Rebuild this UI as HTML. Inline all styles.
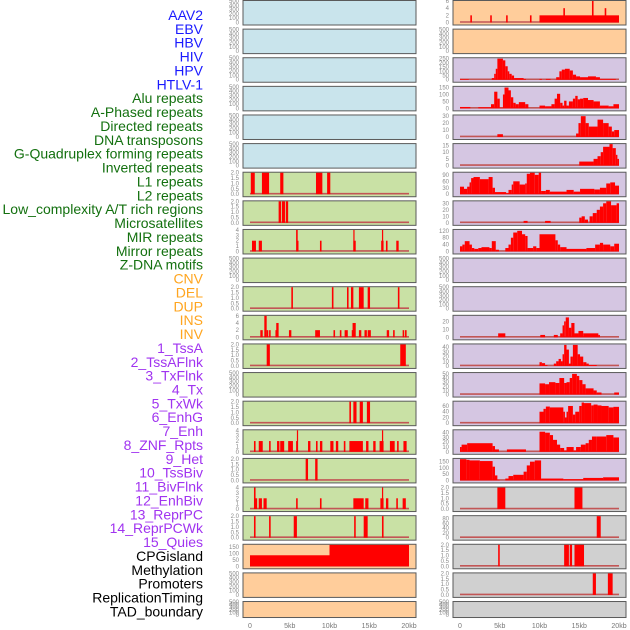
<!DOCTYPE html>
<html><head><meta charset="utf-8">
<style>
html,body{margin:0;padding:0;background:#fff;width:630px;height:630px;overflow:hidden}
svg{display:block;font-family:"Liberation Sans",sans-serif}
</style></head>
<body>
<svg id="chart" width="630" height="630" viewBox="0 0 630 630" xmlns="http://www.w3.org/2000/svg"></svg>
<script>
const featureLabels = ["AAV2","EBV","HBV","HIV","HPV","HTLV-1","Alu repeats","A-Phased repeats","Directed repeats","DNA transposons","G-Quadruplex forming repeats","Inverted repeats","L1 repeats","L2 repeats","Low_complexity A/T rich regions","Microsatellites","MIR repeats","Mirror repeats","Z-DNA motifs","CNV","DEL","DUP","INS","INV","1_TssA","2_TssAFlnk","3_TxFlnk","4_Tx","5_TxWk","6_EnhG","7_Enh","8_ZNF_Rpts","9_Het","10_TssBiv","11_BivFlnk","12_EnhBiv","13_ReprPC","14_ReprPCWk","15_Quies","CPGisland","Methylation","Promoters","ReplicationTiming","TAD_boundary"];
const labelGroups = ["virus","virus","virus","virus","virus","virus","repeat","repeat","repeat","repeat","repeat","repeat","repeat","repeat","repeat","repeat","repeat","repeat","repeat","sv","sv","sv","sv","sv","chrom","chrom","chrom","chrom","chrom","chrom","chrom","chrom","chrom","chrom","chrom","chrom","chrom","chrom","chrom","other","other","other","other","other"];
const xTickValues = [0,5,10,15,20];
const xTickLabels = ["0","5kb","10kb","15kb","20kb"];

// Left column (22 panels): y-axis maxima, tick labels and segments [start kb, end kb, value]
const leftYMax = [500,500,500,500,500,500,2,2,4,500,2,6,2,500,2,4,2,4,2,166,500,500];
const leftTicks = [
 ["0","100","200","300","400","500"],["0","100","200","300","400","500"],["0","100","200","300","400","500"],["0","100","200","300","400","500"],["0","100","200","300","400","500"],["0","100","200","300","400","500"],
 ["0.0","0.5","1.0","1.5","2.0"],["0.0","0.5","1.0","1.5","2.0"],["0","1","2","3","4"],["0","100","200","300","400","500"],["0.0","0.5","1.0","1.5","2.0"],["0","2","4","6"],["0.0","0.5","1.0","1.5","2.0"],["0","100","200","300","400","500"],["0.0","0.5","1.0","1.5","2.0"],["0","1","2","3","4"],["0.0","0.5","1.0","1.5","2.0"],["0","1","2","3","4"],["0.0","0.5","1.0","1.5","2.0"],["0","50","100","150"],["0","100","200","300","400","500"],["0","100","200","300","400","500"]];
const leftSegs = [
 [],[],[],[],[],[],
 [[0.1,0.6,2],[1.5,2.4,2],[3.8,4.2,2],[8.3,9.1,2],[9.7,10.1,2]],
 [[3.6,3.9,2],[4.0,4.4,2],[4.5,4.8,2]],
 [[0.25,0.75,2],[1.1,1.5,2],[5.8,6.0,4],[5.9,6.1,2],[8.8,9.0,2],[13.0,13.1,4],[13.0,13.3,2],[16.6,16.7,4],[16.5,16.8,2],[17.1,17.3,2],[18.4,18.7,2]],
 [],
 [[5.2,5.4,2],[10.3,10.5,2],[12.2,12.4,2],[12.7,13.0,2],[13.7,14.3,2],[14.8,15.1,2],[18.6,18.8,2]],
 [[1.3,1.6,2],[1.8,2.1,6],[2.1,2.3,2],[2.4,2.6,2],[3.2,3.3,2],[3.3,3.6,4],[4.9,5.2,2],[8.2,8.8,2],[10.5,10.7,2],[11.3,11.5,2],[11.9,12.3,2],[12.8,12.9,2],[12.9,13.3,4],[13.7,14.0,2],[14.4,14.7,2],[14.8,15.2,2],[17.2,17.5,2],[18.0,18.2,2],[19.2,19.4,2],[19.5,19.7,2]],
 [[2.1,2.5,2],[18.9,19.6,2]],
 [],
 [[12.5,12.7,2],[13.0,13.4,2],[13.8,14.2,2],[14.7,15.1,2]],
 [[0.5,0.7,2],[1.1,1.6,2],[2.4,2.6,2],[3.4,3.7,2],[3.8,4.3,2],[4.8,5.4,2],[5.8,6.0,2],[7.3,7.6,2],[8.3,8.5,2],[8.8,9.1,2],[10.1,10.5,2],[10.8,11.1,2],[11.8,12.0,2],[12.5,14.2,2],[14.6,14.9,2],[15.5,15.8,2],[16.3,16.8,2],[17.6,18.2,2],[18.5,18.7,2],[19.3,19.7,2],[5.9,6.0,4],[16.6,16.7,4]],
 [[7.0,7.3,2],[8.2,8.5,2]],
 [[0.5,0.7,4],[0.6,0.9,2],[1.1,1.5,2],[1.7,2.1,2],[5.8,6.0,2],[8.8,9.0,2],[13.0,14.3,2],[14.5,14.9,2],[16.4,16.8,2],[16.6,16.7,4],[17.1,17.4,2],[18.4,18.6,2],[19.2,19.6,2]],
 [[0.5,0.7,2],[2.4,2.6,2],[5.5,5.9,2],[13.1,13.3,2],[14.3,14.8,2],[16.6,16.8,2]],
 [[0,10,85],[10,20,165]],
 [],[]];

// Right column (22 panels)
const rightYMax = [6,500,255,155,31,16,100,33,125,500,500,27,46,52,75,45,172,2,90,2,2,500];
const rightTicks = [
 ["0","2","4","6"],["0","100","200","300","400","500"],["0","50","100","150","200","250"],["0","50","100","150"],["0","10","20","30"],["0","5","10","15"],["0","30","60","90"],["0","10","20","30"],["0","40","80","120"],["0","100","200","300","400","500"],["0","100","200","300","400","500"],["0","10","20"],["0","10","20","30","40"],["0","10","20","30","40","50"],["0","20","40","60"],["0","10","20","30","40"],["0","50","100","150"],["0.0","0.5","1.0","1.5","2.0"],["0","20","40","60","80"],["0.0","0.5","1.0","1.5","2.0"],["0.0","0.5","1.0","1.5","2.0"],["0","100","200","300","400","500"]];
// Step profiles: breakpoints (kb) and values per step (last step ends at 20kb)
const rightSegs = [
 [[1.3,1.5,2],[3.8,4.0,2],[5.8,6.0,2],[8.8,9.0,2],[10,20,2],[13.0,13.2,4],[16.6,16.8,6],[18.2,18.4,4]],
 [],
 null,null,null,null,null,null,null,[],[],null,null,null,null,null,null,
 [[4.7,5.7,2],[14.4,15.4,2]],
 [[17.2,17.7,90]],
 [[4.8,5.0,2],[13.1,13.7,2],[13.8,14.1,2],[14.4,15.6,2]],
 [[16.7,17.1,2],[18.6,19.2,2]],
 []];
const profileBreaks = {
 2:[0,1.1,4.0,4.3,4.5,4.7,5.4,5.7,6.0,6.2,6.5,6.8,8.0,8.3,10.0,10.3,10.8,11.4,12.1,12.5,12.8,13.2,13.8,14.2,14.6,15.1,16.1,17.1,17.6,19.6],
 3:[0,1.3,2.3,3.9,4.3,4.7,5.0,5.4,5.6,6.1,6.4,6.7,7.0,7.4,8.2,8.6,10,10.7,11.5,11.9,12.2,12.6,12.9,13.1,13.4,13.7,14.2,14.5,14.8,15.1,15.5,16.1,16.8,17.6,18.7,19.3],
 4:[0,4.7,5.4,14.6,14.9,15.2,15.8,16.2,17.3,18.0,18.7,19.1,19.4],
 5:[0,15,16.8,17.3,17.7,18.0,18.8,19.2,19.6,19.8],
 6:[0,0.5,0.9,1.2,1.4,1.7,2.5,3.6,4.1,4.4,5.8,6.1,6.5,6.7,7.5,8.2,8.4,8.8,9.4,9.9,10.2,10.8,11.3,13.4,14.3,15.1,16.9,17.6,18.4,18.9,19.5],
 7:[0,8.0,8.5,10.7,11.4,15.0,15.3,15.7,16.1,16.3,16.7,17.2,17.6,18.0,18.4,19.0,19.7],
 8:[0,0.3,0.6,1.2,1.5,1.8,2.3,2.7,3.7,4.0,4.5,4.9,5.7,6.1,6.4,6.7,7.2,7.8,8.2,8.5,9.2,9.6,10.0,12.0,12.3,12.6,13.4,15.9,17.0,17.6,18.0,18.9,19.4],
 11:[0,4.8,5.7,10.1,10.7,11.8,12.3,12.6,12.9,13.1,13.3,13.7,14.0,14.4,14.9,15.5,17.4,17.6],
 12:[0,10,10.3,10.7,11.0,11.8,12.1,12.4,12.7,12.9,13.1,13.4,13.7,13.9,14.2,14.4,14.8,15.1,15.5,15.9,16.2,17.2],
 13:[0,10,10.7,11.2,12.0,12.5,13.1,13.4,13.8,14.1,14.7,15.0,15.4,15.8,16.8,17.2,17.8,19.4],
 14:[0,10,10.5,10.8,11.3,13.0,13.2,13.4,13.6,14.2,14.5,15.0,15.3,15.6,16.5,16.8,17.3,17.8,18.7,19.3],
 15:[0,0.2,0.9,4.1,4.4,4.9,5.9,8.3,10,10.7,11.3,11.7,12.2,12.6,13.1,13.4,14.3,14.6,15.2,15.8,16.2,16.6,17.2,18.4,19.3],
 16:[0,0.8,1.2,2.5,4.1,4.4,4.7,5.0,5.7,6.1,6.7,8.0,8.4,8.8,9.4,10.2,13.0,15.5,18.0]};
const profileValues = {
 2:[8,0,20,70,130,250,230,160,100,70,50,20,10,0,10,0,10,0,30,100,120,130,110,60,40,30,40,30,10,0],
 3:[10,0,8,30,120,70,5,100,150,130,80,40,30,45,30,0,20,15,30,70,105,40,20,55,20,50,70,90,65,70,75,60,50,20,15,30],
 4:[0,4,0,5,20,30,20,15,25,20,15,8,10],
 5:[0,3,5,7,10,14,16,13,8,5],
 6:[35,25,35,55,75,80,70,80,30,10,5,20,45,60,45,50,95,100,90,100,15,20,12,20,12,25,22,30,50,55,40],
 7:[0,3,0,3,0,8,10,5,0,10,15,20,25,30,33,27,30],
 8:[30,40,60,40,20,15,20,25,20,60,10,0,20,40,80,110,120,100,90,20,30,20,100,65,40,25,15,20,40,50,40,30,45],
 11:[0,5,0,3,0,3,0,5,15,20,25,12,18,5,8,5,3,0],
 12:[0,8,6,2,0,5,10,15,10,25,45,35,5,20,45,45,25,20,8,5,2,0],
 13:[0,27,25,30,28,40,28,30,40,50,45,35,25,15,10,5,0,5],
 14:[0,40,50,58,55,40,20,40,60,30,40,60,72,70,62,65,62,60,55,57],
 15:[10,15,18,12,5,0,5,0,42,40,35,25,15,8,3,10,3,10,15,18,25,32,32,35,30],
 16:[170,165,160,155,110,40,5,0,15,35,45,70,120,150,160,15,10,20,25]};

const leftBg = ["#c9e4ec","#c9e4ec","#c9e4ec","#c9e4ec","#c9e4ec","#c9e4ec","#c9e1a5","#c9e1a5","#c9e1a5","#c9e1a5","#c9e1a5","#c9e1a5","#c9e1a5","#c9e1a5","#c9e1a5","#c9e1a5","#c9e1a5","#c9e1a5","#c9e1a5","#ffcd9b","#ffcd9b","#ffcd9b"];
const rightBg = ["#ffcd9b","#ffcd9b","#d5c6e2","#d5c6e2","#d5c6e2","#d5c6e2","#d5c6e2","#d5c6e2","#d5c6e2","#d5c6e2","#d5c6e2","#d5c6e2","#d5c6e2","#d5c6e2","#d5c6e2","#d5c6e2","#d5c6e2","#d0d0d0","#d0d0d0","#d0d0d0","#d0d0d0","#d0d0d0"];

const NS = "http://www.w3.org/2000/svg";
const svg = document.getElementById("chart");
const groupColor = {virus:"#1a1aff", repeat:"#13700f", sv:"#ffa51f", chrom:"#a033f0", other:"#000000"};
function mk(tag, attrs, parent){ const e=document.createElementNS(NS,tag); for(const k in attrs) e.setAttribute(k,attrs[k]); (parent||svg).appendChild(e); return e; }

// labels
featureLabels.forEach((lab,i)=>{
  const t = mk("text",{x:203,y:(20+i*13.87).toFixed(2),"text-anchor":"end","font-size":"14",fill:groupColor[labelGroups[i]]});
  
  
  t.textContent = lab;
});

const PITCH = 28.62;
function panelTop(i){ return i*PITCH; }
function panelH(i){ return i===21 ? 16 : 24.5; }

function drawPanel(col, i){
  const x0 = col===0 ? 243 : 453, x1 = col===0 ? 416 : 626;
  const xs = kb => (x0+7) + kb*(159/20);
  const top = panelTop(i), h = panelH(i);
  const yBase = top + h - 2, yTop = top + 1;
  const ymax = col===0 ? leftYMax[i] : rightYMax[i];
  const ys = v => yBase - (v/ymax)*(yBase-yTop);
  const g = mk("g",{});
  
  
  const bg = mk("rect",{x:x0,y:top+0.5,width:x1-x0,height:h,fill:col===0?leftBg[i]:rightBg[i],stroke:"#5a5a5a","stroke-width":"1"},g);
  
  
  // ticks
  const ticks = col===0 ? leftTicks[i] : rightTicks[i];
  ticks.forEach(tl=>{
    const v = parseFloat(tl);
    const t = mk("text",{x:x0-4,y:(ys(v)+2).toFixed(2),"text-anchor":"end","font-size":"6",fill:"#8a8a8a"},g);
    
    
    t.textContent = tl;
  });
  // segments
  let segs = col===0 ? leftSegs[i] : rightSegs[i];
  if (segs === null){
    const br = profileBreaks[i], vals = profileValues[i];
    segs = br.map((b,k)=>[b, k+1<br.length?br[k+1]:20, vals[k]]);
  }
  if (segs.length){
    const bl = mk("line",{x1:xs(0),x2:xs(20),y1:yBase-0.5,y2:yBase-0.5,stroke:"#c25656","stroke-width":"1.6"},g);
    
    
    segs.forEach(s=>{
      if (s[2]<=0) return;
      const y = ys(s[2]);
      const r = mk("rect",{x:xs(s[0]).toFixed(2),y:y.toFixed(2),width:Math.max(1.2,xs(s[1])-xs(s[0])).toFixed(2),height:(yBase-y).toFixed(2),fill:"#ff0000"},g);
      
      
    });
  }
  if (i===21){
    xTickValues.forEach((v,k)=>{
      const t = mk("text",{x:xs(v).toFixed(2),y:628,"text-anchor":"middle","font-size":"7",fill:"#777"});
      
      
      t.textContent = xTickLabels[k];
    });
  }
}
for(let c=0;c<2;c++) for(let i=0;i<22;i++) drawPanel(c,i);
</script>
</body></html>
